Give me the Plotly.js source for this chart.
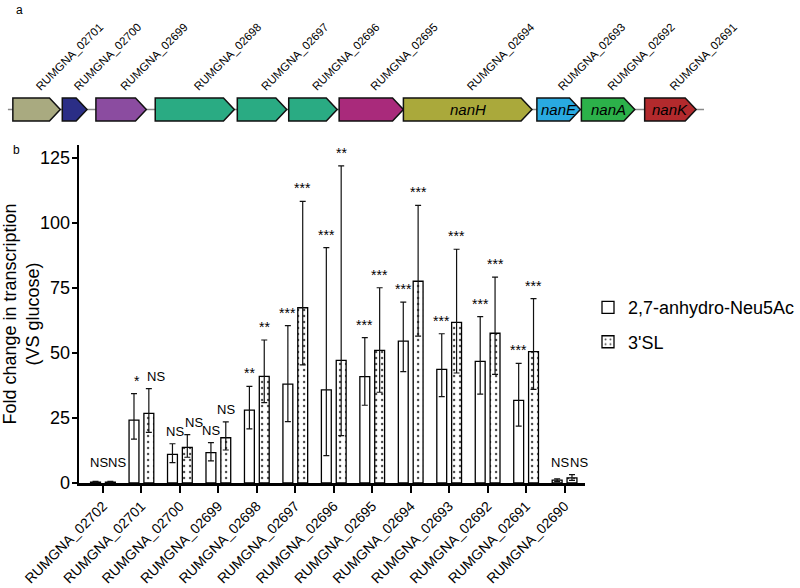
<!DOCTYPE html>
<html>
<head>
<meta charset="utf-8">
<script src="https://cdn.plot.ly/plotly-3.0.1.min.js"></script>
<style>html,body{margin:0;padding:0;background:#fff;}#chart{width:800px;height:588px;}</style>
</head>
<body>
<div id="chart"></div>
<script>
// ---------- Panel b data ----------
const categories = ['RUMGNA_02702','RUMGNA_02701','RUMGNA_02700','RUMGNA_02699','RUMGNA_02698','RUMGNA_02697','RUMGNA_02696','RUMGNA_02695','RUMGNA_02694','RUMGNA_02693','RUMGNA_02692','RUMGNA_02691','RUMGNA_02690'];
const seriesNames = ['2,7-anhydro-Neu5Ac', "3'SL"];
const anhydroMean  = [0.3, 24.2, 11.0, 11.7, 28.0, 38.0, 35.8, 40.9, 54.6, 43.7, 46.8, 31.8, 1.1];
const anhydroUpper = [0.6, 34.4, 15.1, 15.5, 37.2, 60.5, 90.5, 55.9, 69.6, 57.4, 64.0, 46.0, 1.6];
const anhydroLower = [0.1, 16.9, 7.8, 8.5, 20.8, 23.6, 10.5, 29.9, 42.8, 33.2, 34.2, 21.9, 0.6];
const slMean  = [0.3, 26.8, 13.7, 17.4, 41.0, 67.4, 47.2, 51.0, 77.6, 61.8, 57.6, 50.5, 2.0];
const slUpper = [0.6, 36.3, 18.6, 23.5, 55.0, 108.3, 122.0, 75.1, 106.8, 89.9, 79.2, 70.9, 3.2];
const slLower = [0.1, 19.5, 9.9, 12.7, 30.9, 45.4, 18.2, 34.9, 56.5, 42.3, 41.8, 36.0, 1.0];
const anhydroSig = ['NS','*','NS','NS','**','***','***','***','***','***','***','***','NS'];
const slSig      = ['NS','NS','NS','NS','**','***','**','***','***','***','***','***','NS'];
const yTickVals = [0, 25, 50, 75, 100, 125];

// ---------- Panel a data (gene map) ----------
const genes = ['RUMGNA_02701','RUMGNA_02700','RUMGNA_02699','RUMGNA_02698','RUMGNA_02697','RUMGNA_02696','RUMGNA_02695','RUMGNA_02694','RUMGNA_02693','RUMGNA_02692','RUMGNA_02691'];
const geneStart = [13, 63, 97, 157, 240, 292, 343, 408, 543, 588, 652];
const geneEnd   = [61, 88, 148, 237, 290, 341, 408, 538, 587, 642, 704];
const geneSymbol = ['', '', '', '', '', '', '', 'nanH', 'nanE', 'nanA', 'nanK'];
const geneColor = ['#a9aa80','#2b2e86','#8b4ca0','#2aab83','#2aab83','#2aab83','#a92a7b','#aaa93b','#29aae1','#2cb14a','#b32a2d'];
const locus = [8, 712];

// ---------- styling constants ----------
const FONT = 'Arial, "Liberation Sans", sans-serif';
const BAR_W = 0.257, BAR_GAP = 0.129;
const OFF_A = -BAR_GAP/2 - BAR_W, OFF_B = BAR_GAP/2;
const ARROW_TOP = 98, ARROW_BOT = 121, HEAD = 11;
const MIN_LABEL_Y = 3;

const sub = (a, b) => a.map((v, i) => v - b[i]);
const geneCenter = geneStart.map((s, i) => (s + geneEnd[i]) / 2);

const traceA = {
  type: 'bar', name: seriesNames[0], x: categories, y: anhydroMean,
  width: BAR_W, offset: OFF_A, legendgroup: 'a',
  marker: {color: 'white', line: {color: '#000', width: 1.3}},
  error_y: {type: 'data', symmetric: false, array: sub(anhydroUpper, anhydroMean), arrayminus: sub(anhydroMean, anhydroLower), color: '#111', thickness: 1.2, width: 3},
  xaxis: 'x', yaxis: 'y'
};
const traceB = {
  type: 'bar', name: seriesNames[1], x: categories, y: slMean,
  width: BAR_W, offset: OFF_B, legendgroup: 'b',
  marker: {color: 'white', line: {color: '#000', width: 1.3},
    pattern: {shape: '.', fgcolor: '#444', bgcolor: 'white', size: 6, solidity: 0.12}},
  error_y: {type: 'data', symmetric: false, array: sub(slUpper, slMean), arrayminus: sub(slMean, slLower), color: '#111', thickness: 1.2, width: 3},
  xaxis: 'x', yaxis: 'y'
};
// invisible carrier trace so the gene-label axis is drawn
const traceGeneAxis = {type: 'scatter', x: [], y: [], xaxis: 'x3', yaxis: 'y2', showlegend: false, hoverinfo: 'skip'};

const annotations = [];
categories.forEach((c, i) => {
  const ya = Math.max(anhydroUpper[i], MIN_LABEL_Y);
  const yb = Math.max(slUpper[i], MIN_LABEL_Y);
  const crowded = Math.abs(ya - yb) < 5;   // labels at the same height: spread apart
  [[anhydroSig[i], ya, OFF_A, crowded ? 3 : 0], [slSig[i], yb, OFF_B, crowded ? 7 : 0]].forEach(([t, y, off, dx]) => {
    annotations.push({
      x: i + off + BAR_W/2, y: y, xref: 'x', yref: 'y',
      text: t, showarrow: false, xanchor: 'center', yanchor: 'bottom', yshift: 3, xshift: dx,
      font: {family: FONT, size: t === 'NS' ? 13 : 14, color: '#000'}
    });
  });
});

// gene map shapes
const shapes = [{
  type: 'line', xref: 'x2', yref: 'y2', x0: locus[0], x1: locus[1],
  y0: (ARROW_TOP + ARROW_BOT)/2, y1: (ARROW_TOP + ARROW_BOT)/2,
  line: {color: '#8a8a8a', width: 1.5}, layer: 'below'
}];
genes.forEach((g, i) => {
  const s = geneStart[i], e = geneEnd[i], m = (ARROW_TOP + ARROW_BOT)/2;
  shapes.push({
    type: 'path', xref: 'x2', yref: 'y2',
    path: `M${s},${ARROW_TOP} L${e - HEAD},${ARROW_TOP} L${e},${m} L${e - HEAD},${ARROW_BOT} L${s},${ARROW_BOT} Z`,
    fillcolor: geneColor[i], line: {color: '#111', width: 1.5}
  });
  if (geneSymbol[i]) {
    annotations.push({
      x: geneCenter[i], y: m, xref: 'x2', yref: 'y2', text: '<i>' + geneSymbol[i] + '</i>',
      showarrow: false, xanchor: 'center', yanchor: 'middle',
      font: {family: FONT, size: 15, color: '#000'}
    });
  }
});
annotations.push({x: 0.025, y: 0.979, xref: 'paper', yref: 'paper', text: 'a', showarrow: false, xanchor: 'center', yanchor: 'middle', font: {family: FONT, size: 12, color: '#000'}});
annotations.push({x: 0.021, y: 0.6894, xref: 'paper', yref: 'paper', text: 'b', showarrow: false, xanchor: 'center', yanchor: 'middle', font: {family: FONT, size: 12, color: '#000'}});

const layout = {
  width: 800, height: 588,
  margin: {l: 0, r: 0, t: 0, b: 105},
  paper_bgcolor: 'white', plot_bgcolor: 'rgba(0,0,0,0)',
  font: {family: FONT, color: '#000'},
  showlegend: true,
  legend: {x: 0.7435, y: 0.4013, xanchor: 'left', yanchor: 'top', font: {family: FONT, size: 18, color: '#000'},
           traceorder: 'grouped', tracegroupgap: 8, bgcolor: 'rgba(0,0,0,0)'},
  xaxis: {
    domain: [0.1, 0.74], type: 'category', range: [-0.62, 12.54],
    showline: true, linewidth: 2.5, linecolor: '#000', ticks: 'outside', ticklen: 7, tickwidth: 2, tickcolor: '#000',
    tickangle: -45, tickfont: {family: FONT, size: 14, color: '#000'}, showgrid: false, zeroline: false, automargin: false,
    anchor: 'y'
  },
  yaxis: {
    domain: [0, 0.6998], range: [0, 130], tickvals: yTickVals,
    showline: true, linewidth: 2.5, linecolor: '#000', ticks: 'outside', ticklen: 5, tickwidth: 2, tickcolor: '#000',
    ticklabelstandoff: -2,
    tickfont: {family: FONT, size: 18, color: '#000'}, showgrid: false, zeroline: false, automargin: false,
    title: {text: 'Fold change in transcription<br>(VS glucose)', font: {family: FONT, size: 18, color: '#000'}, standoff: 4},
    anchor: 'x'
  },
  xaxis2: {domain: [0, 1], range: [0, 800], visible: false, anchor: 'y2', fixedrange: true},
  yaxis2: {domain: [0.7, 1], range: [145, 0], visible: false, anchor: 'x2', fixedrange: true},
  xaxis3: {
    overlaying: 'x2', anchor: 'free', position: 0.803, side: 'top', range: [0, 800],
    tickmode: 'array', tickvals: geneCenter, ticktext: genes, tickangle: -45,
    ticks: '', showline: false, showgrid: false, zeroline: false, automargin: false, fixedrange: true,
    tickfont: {family: FONT, size: 11.5, color: '#000'}
  },
  shapes: shapes,
  annotations: annotations,
  bargap: 0
};

Plotly.newPlot('chart', [traceA, traceB, traceGeneAxis], layout, {displayModeBar: false, staticPlot: true});
</script>
</body>
</html>
